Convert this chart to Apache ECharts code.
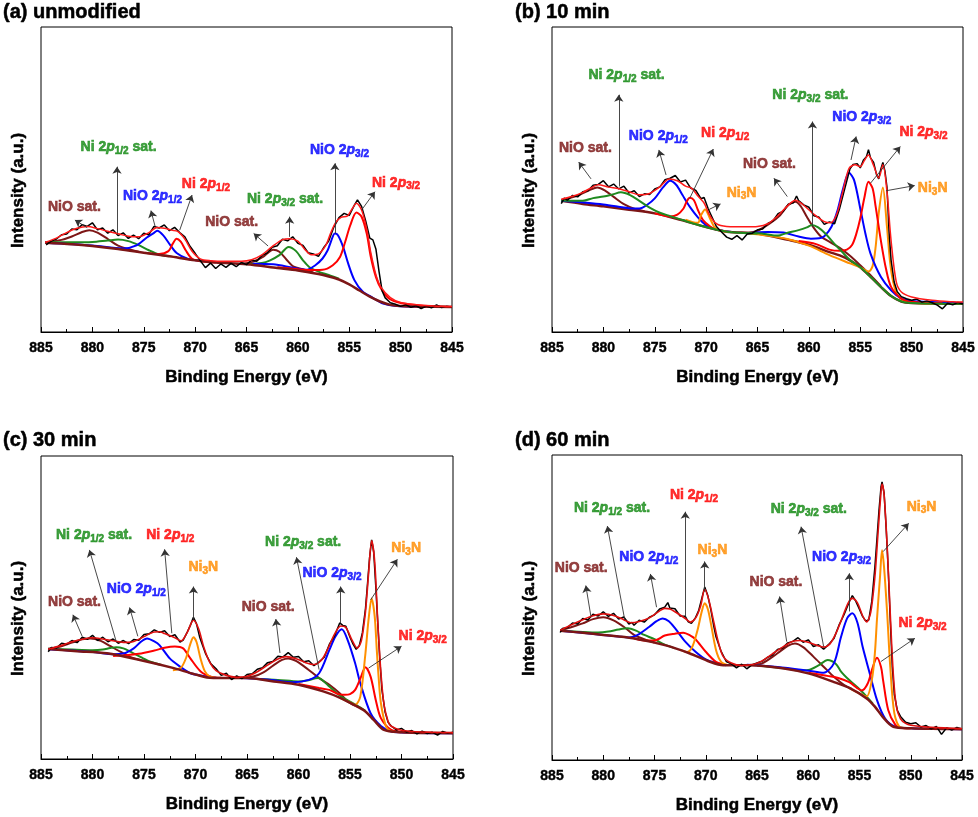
<!DOCTYPE html>
<html>
<head>
<meta charset="utf-8">
<title>Ni 2p XPS</title>
<script src="https://cdn.jsdelivr.net/npm/echarts@6/dist/echarts.min.js"></script>
<style>
  html, body { margin: 0; background: #fff; }
  #chart { width: 978px; height: 817px; }
</style>
</head>
<body>
<div id="chart"></div>
<script>
// ---------- (a) unmodified ----------
var rawA = [[884.5,28.6],[884,29.8],[883.5,30.5],[883,31.9],[882.5,32.1],[882,33.8],[881.5,33.5],[881,35.2],[880.5,34.6],[880,35.8],[879.5,33.5],[879,34.1],[878.5,32.4],[878,33.5],[877.5,31.6],[877,32.5],[876.5,30.7],[876,31.8],[875.5,30.6],[875,32.4],[874.5,31.9],[874,34.6],[873.5,34.1],[873,35.1],[872.5,33.2],[872,34.3],[871.5,32.6],[871,31.2],[870.5,28.1],[870,25.8],[869.5,23.4],[869,21.1],[868.5,22.6],[868,20.8],[867.5,22.3],[867,21.2],[866.5,22.5],[866,21.4],[865.5,22.8],[865,22.1],[864.5,23.6],[864,23.2],[863.5,25.1],[863,25.9],[862.5,27.8],[862,28.3],[861.5,30.4],[861,29.9],[860.5,31.2],[860,29.1],[859.5,28.4],[859,26],[858.5,25.6],[858,24.8],[857.5,27.6],[857,29.8],[856.5,34.4],[856,37.5],[855.5,38.9],[855,38.2],[854.5,41.6],[854.2,43.3],[853.8,41.2],[853.4,36.4],[853,30.8],[852.7,30.2],[852.4,27.1],[852.1,19.8],[851.8,13.5],[851.5,11.2],[851,9.6],[850.5,9.1],[850,8.4],[849.5,8.9],[849,8.1],[848.5,8.6],[848,7.7],[847.5,8.5],[847,7.9],[846.5,8.9],[846,8],[845.5,8.4],[845,8.2]];
var fitA = [[884.6,29.4],[883.5,30.8],[882.5,32.6],[881.5,34],[880.5,34.6],[879.5,33.9],[878.5,33],[877.5,32.2],[876.5,31.4],[875.5,31.2],[874.5,32.6],[873.7,34.3],[873,34],[872.3,33.4],[871.7,33],[871,30.5],[870.3,26.5],[869.5,24],[868.5,23.4],[867,23.2],[865.5,23.2],[864.5,23.7],[863.5,25.3],[862.5,28],[861.5,30.3],[860.8,30.6],[860,29.8],[859.3,27],[858.7,25.3],[858,25.6],[857.3,28.3],[856.8,32.5],[856.3,36],[855.8,37.6],[855.2,38],[854.7,40.5],[854.3,42.2],[853.8,40],[853.3,33.8],[852.9,26],[852.4,18.7],[851.9,14.6],[851,11.3],[850,9.7],[848,8.8],[846,8.4],[845,8.3]];
var bgA = [[884.6,29.3],[882,28.8],[880,28.2],[877.5,27.2],[875,26],[872.5,24.8],[870,23.5],[868,22.8],[865,22.2],[862,21],[860,20.2],[858,19],[857,18.2],[856,17.2],[855,15.6],[854,13.6],[853,11.6],[852,10],[851,8.9],[850,8.5],[848,8.3],[845,8.2]];
var nioSatA1 = [[884.6,29.3],[883,30.2],[882,31.3],[881,32.8],[880.3,33.4],[879.5,32.6],[878.5,30.5],[877.5,28.3],[876.5,27.2],[875.5,26.3]];
var niSat12A = [[884.6,29.4],[882,29.4],[880,29.5],[878.5,30],[877.5,30.3],[876.5,29.8],[875.5,28.5],[874.5,26.8],[873.5,25.4],[872.5,24.8]];
var nio12A = [[884.6,29.3],[880,28.4],[877,27.4],[875.7,28.4],[874.7,31],[874,32.5],[873.7,33.2],[873.1,31.7],[872.4,28.4],[871.8,25.9],[870.8,24.1],[869.8,23.5],[868,22.9]];
var ni12A = [[875,26],[873.5,25.6],[872.6,26.5],[872.2,28.8],[871.8,30.6],[871.4,29.6],[870.9,26.7],[870.3,24],[869.5,23.2],[868,22.8]];
var nioSatA2 = [[866,22.3],[864.4,23],[863.4,24.6],[862.4,27],[861.8,26.3],[861.1,23.7],[860.4,21.4],[859.5,20.6],[858.5,19.5]];
var niSat32A = [[865,22.2],[863.5,22.6],[862.7,23.5],[861.8,25.2],[860.9,27.9],[860.2,26.6],[859.5,23.5],[858.9,21.3],[858,19.8],[857,18.7],[856,17.5]];
var nio32A = [[864.4,22.4],[862.4,22.2],[860.5,21.1],[859.2,20.4],[858.3,21.9],[857.6,24.1],[857.1,26.8],[856.8,29.5],[856.4,32.3],[856.1,31.7],[855.6,27.9],[855.1,22.4],[854.5,17],[853.7,13.3],[852.7,11.2],[851.7,9.3],[850.4,8.5],[848,8.3]];
var ni32A = [[862,21.2],[860,20.6],[859.2,20.3],[857.6,20.4],[856.6,21.9],[855.9,24.6],[855.4,29.5],[854.9,35],[854.3,39.2],[853.8,37.8],[853.3,32.3],[852.9,24.6],[852.4,18],[851.9,14.2],[851.1,10.9],[850,9.5],[848,8.7],[846,8.4],[845,8.3]];

// ---------- (b) 10 min ----------
var rawB = [[884.1,42.1],[883.8,43.9],[883.5,43.2],[883,44.8],[882.5,44.3],[882,46],[881.5,46.3],[881,48.1],[880.5,48.4],[880,49.6],[879.5,47.6],[879,48.5],[878.5,46.9],[878,47.8],[877.5,45.6],[877,46.3],[876.5,44.4],[876,45.3],[875.5,45.1],[875,46.9],[874.5,47.6],[874,49.9],[873.5,50.4],[873,51.3],[872.5,49.2],[872,49.8],[871.5,47.2],[871,46.4],[870.5,43.7],[870.2,44.1],[869.8,40.4],[869.5,38.2],[869,34.6],[868.5,32.8],[868,31.1],[867.5,30.4],[867,31.6],[866.5,30.2],[866,32.1],[865.5,32.4],[865,33.5],[864.5,33.8],[864,35.6],[863.5,36.4],[863,38.8],[862.5,39.6],[862,41.9],[861.5,42.4],[861.2,44.6],[861,43.1],[860.5,41.7],[860,40.9],[859.5,38.1],[859,37.6],[858.5,35.3],[858,36.1],[857.5,35.5],[857,40.6],[856.5,47.1],[856,53.5],[855.7,54.9],[855.3,55.2],[855,53.8],[854.7,56.3],[854.4,57.5],[854.2,59.8],[854,57.1],[853.7,55.6],[853.4,51.4],[853.2,50.2],[853,53.4],[852.8,55.6],[852.6,52.8],[852.4,47.5],[852.2,33.1],[852,23.6],[851.7,16.4],[851.4,13.2],[851,11.6],[850.5,10.9],[850,10.4],[849.5,10.8],[849,9.8],[848.5,10.2],[848,9.6],[847.5,8.8],[847,7.6],[846.5,9.4],[846,8.9],[845.5,9.7],[845,9.2]];
var fitB = [[884.1,43.5],[883,44.5],[882,45.8],[881,47.6],[880.5,48.3],[879.5,47.5],[878.5,47],[877.5,46],[876.5,45],[875.5,45.4],[874.5,47.6],[873.6,50.2],[872.8,49.6],[872,47.8],[871.4,47.1],[870.8,44.6],[870.2,42.3],[869.7,38.6],[869,35.5],[868,34.6],[866,34.5],[865,34.6],[864,35.5],[863,38.2],[862,41.6],[861.3,43.2],[860.6,41.8],[859.5,38.6],[858.5,36.2],[857.9,35.8],[857.3,38.5],[856.7,46],[856.1,53.6],[855.5,54.8],[855,54.2],[854.6,56.2],[854.2,58],[853.7,54.6],[853.2,50.5],[852.8,54.8],[852.4,46],[852,30],[851.5,16.5],[851,13.1],[850,11.5],[848,10.4],[846,9.9],[845,9.8]];
var bgB = [[884.1,43],[882,42],[880,41.2],[877.5,40.1],[875,38.9],[872.5,36.8],[870,34.4],[868,32.9],[865,32.3],[862,30.2],[860,28.6],[858,26.2],[857,25.1],[856,23.5],[855,21.2],[854,18.1],[853,14.8],[852,11.8],[851,10],[850,9.5],[847,9.3],[845,9.3]];
var nioSatB1 = [[884.1,43.2],[883.3,43.9],[882.3,45],[881.3,46.6],[880.6,47.4],[879.8,46.3],[879,44.3],[878,41.9],[877,40.4],[876,39.6]];
var niSat12B = [[884.1,43.1],[882,43],[881,43.9],[880,44.4],[879.1,45.1],[878.3,45.8],[877.4,44.9],[876.5,43],[875.5,40.8],[874.5,39.1],[873.5,38],[872.3,36.7],[870,34.4],[868,32.9],[865,32.3]];
var nio12B = [[884.1,43],[880,41.8],[877.5,40.6],[876.5,40.5],[875.7,41.8],[875,43.8],[874.2,47.4],[873.5,49.6],[872.9,48.2],[872.3,44.9],[871.6,41.1],[870.8,37.6],[870,35],[869,33.6],[867.5,32.8]];
var ni12B = [[875,38.9],[873.5,37.9],[872.8,38.5],[872.2,40.5],[871.9,42.7],[871.6,44],[871.2,43.3],[870.8,40],[870.3,36.7],[869.6,34.6],[869,33.6],[868,32.9]];
var ni3n12B = [[872,36.8],[871.3,36],[870.8,35.8],[870.5,38.3],[870.1,40.2],[869.7,37.8],[869.2,34.5],[868.6,33.2],[867.5,32.8]];
var nioSatB2 = [[866,32.4],[865,33.2],[863.8,35.6],[862.8,38.3],[862,41.6],[861.3,42.7],[860.8,41.3],[860.2,37.8],[859.6,34.5],[858.8,31.2],[857.9,29.4],[857,27.6],[856,25],[855,21.9],[854,18.6],[853,15]];
var niSat32B = [[866,32.4],[865,32.4],[863,31.6],[862.2,32.4],[861,33.4],[860.2,34.3],[859.7,35.1],[859.1,34.3],[858.4,32.3],[857.6,29.2],[856.8,26.4],[856,23.6],[855,21.2],[854,18.1],[853,14.8],[852,11.8],[851,10],[850,9.5],[847,9.3],[845,9.3]];
var nio32B = [[866,32.4],[864,32.8],[862.5,32.6],[861,31.3],[859.8,30.6],[859,30.7],[858.5,31.4],[857.8,34.5],[857.2,40],[856.7,46.6],[856.1,52.2],[855.6,49.8],[855,40.5],[854.5,32.3],[854,25.7],[853,18.1],[852,13.7],[851,11],[850,10.2],[848,9.8],[845,9.5]];
var ni32B = [[861,29.8],[859.3,28.8],[858,27],[857,26.6],[856.3,27],[855.8,28.5],[855.4,32],[855,37.2],[854.6,44],[854.2,49.3],[853.8,47.1],[853.5,41.1],[853,30.1],[852.5,20.8],[852,14.8],[851,11],[850,9.9],[847,9.4]];
var ni3n32B = [[866,32.4],[864,31.6],[862,30.4],[860,28.3],[858,25.2],[856,22.5],[855,21.2],[854.2,19.8],[853.8,21.6],[853.5,28],[853.2,39],[852.8,47.4],[852.4,34.5],[852.1,23],[851.8,16.5],[851.4,12.2],[850.8,10.3],[849.6,9.5],[847,9.3]];

// ---------- (c) 30 min ----------
var rawC = [[884.3,35.4],[884,36.8],[883.5,36.6],[883,38.2],[882.5,37.9],[882,39.1],[881.5,38.4],[881,40.2],[880.5,39.5],[880,40.8],[879.5,39.1],[879,40.2],[878.5,38.7],[878,39.6],[877.5,38.2],[877,39.1],[876.5,38.1],[876,39.4],[875.5,39.2],[875,41.1],[874.5,41.3],[874,42.6],[873.5,41.8],[873,42.3],[872.5,40.4],[872,41],[871.5,38.6],[871.2,39.2],[870.8,41.9],[870.5,44.1],[870.2,46.8],[869.9,44.6],[869.6,40.3],[869.3,37.4],[869,34.6],[868.5,31.4],[868,29.8],[867.5,27.6],[867,28.3],[866.5,26.2],[866,27.4],[865.5,26.5],[865,27.9],[864.5,28.1],[864,29.6],[863.5,30.1],[863,31.8],[862.5,32.2],[862,33.9],[861.5,33.7],[861,35.1],[860.5,33.6],[860,33.8],[859.5,32.1],[859,32.4],[858.5,30.8],[858,32.1],[857.5,33.6],[857,37.9],[856.5,40.6],[856,44.9],[855.7,44.1],[855.4,43.8],[855,40.2],[854.7,37.9],[854.4,36.2],[854.1,37.4],[853.8,41.6],[853.5,49.5],[853.3,57.8],[853.1,66.4],[852.9,72.3],[852.7,68.4],[852.5,57.1],[852.3,44.6],[852.1,32.5],[851.9,22.8],[851.6,15.6],[851.3,12.1],[851,10.9],[850.5,9.6],[850,10.1],[849.5,8.9],[849,9.4],[848.5,8.3],[848,9.2],[847.5,8.4],[847,8.8],[846.5,7.9],[846,9.1],[845.5,8.5],[845,8.8]];
var fitC = [[884.3,36.2],[883,37.5],[882,38.7],[881,39.5],[880,40],[879,39.6],[878,39],[877,38.5],[876,38.8],[875,40.4],[874,41.9],[873.5,42],[873,41.4],[872,40],[871.4,39],[870.8,41.8],[870.2,45.8],[869.7,43],[869.2,37],[868.6,31.8],[868,29.2],[867,27.6],[866,27],[865,27.3],[864,28.8],[863,31],[862,33],[861.2,33.8],[860.3,33.2],[859.3,31.8],[858.5,31.2],[857.8,32.5],[857.2,36],[856.5,41.2],[855.9,43.9],[855.4,43.4],[854.8,39.2],[854.3,36.6],[853.9,39],[853.5,48.5],[853.2,61],[852.9,72],[852.6,65],[852.3,45],[852,28.5],[851.7,18],[851.3,12.4],[851,10.8],[850,9.5],[848,8.9],[845,8.7]];
var bgC = [[884.3,36.3],[881.5,35.6],[878.6,34.9],[875.4,32.7],[872.1,30],[869.9,27.8],[868.9,26.9],[867.3,26.7],[865,26.7],[862.4,25.6],[860,24.5],[857.6,22.3],[855.9,20.1],[854.3,17.3],[853.5,15.7],[852.7,12.9],[851.7,9.6],[850,8.8],[848,8.6],[845,8.5]];
var nioSatC1 = [[884.3,36.3],[883.1,37.1],[882,38.4],[881,39.5],[880.2,39.8],[879.2,39],[878.3,37.3],[877.3,35.4],[876.3,33.6],[875.4,32.7]];
var niSat12C = [[884.3,36.4],[882,36.1],[880,35.9],[879,36.1],[878.3,36.6],[877.7,36.9],[877,36.5],[876.2,35.2],[875.3,33.6],[874.3,32],[873.3,31]];
var nio12C = [[884.3,36.2],[880,35.3],[878,34.6],[877,34.8],[876,36.5],[875.3,38.7],[874.7,39.8],[874,38.8],[873.5,37.6],[872.5,33.2],[871.5,30.5],[870.5,28.3],[869.5,27.6],[868,26.8]];
var ni12C = [[878,34],[877,34.2],[875.5,34.7],[874,35.8],[873,36.7],[872,37.1],[871.2,36.5],[870.5,33.2],[869.5,28.9],[868.5,27.2],[867.5,26.8]];
var ni3n12C = [[872.2,29.3],[871.4,30.2],[870.9,33.5],[870.5,38],[870.2,40.2],[869.9,38.6],[869.5,33],[869.1,29],[868.6,27.2],[867.5,26.7]];
var nioSatC2 = [[867,26.7],[865.5,26.8],[864.4,27.2],[863.4,28.6],[862.4,31],[861.6,32.7],[861,33.2],[860.2,32.3],[859.4,30.4],[859,29.4],[858,26.7],[857,24.5],[856,21.7],[855.2,18.9],[854.5,17.6]];
var niSat32C = [[864,26.4],[862,26.1],[860,25.6],[859.2,25.9],[858.1,26.7],[857.1,24.2],[856.1,21.2],[855,18.9],[854.3,17.6],[853.5,15.9]];
var nio32C = [[866,26.8],[863,26.2],[860.5,25.3],[859,26.1],[858,28.3],[857,36],[856.4,40.5],[855.8,42.8],[855.2,39],[854.5,31.6],[854,25],[853,15.1],[852,10.9],[851,9.1],[849,8.7],[845,8.5]];
var ni32C = [[860,24.8],[858,23.4],[857,22.8],[856.2,21.5],[855.5,21.2],[855,21.4],[854.5,22.8],[854,26.5],[853.5,30.3],[853,27.2],[852.5,19.5],[852,13.5],[851,9.6],[850,9],[847,8.7]];
var ni3n32C = [[856,20.2],[855,18.7],[854.5,17.9],[854,20.6],[853.5,34.9],[853.2,46],[852.9,53],[852.6,47],[852.4,36],[852.2,26],[852,18.4],[851.5,10.7],[851,9.2],[850,8.8]];

// ---------- (d) 60 min ----------
var rawD = [[884.2,41.8],[884,43.1],[883.5,43.4],[883,44.9],[882.5,44.6],[882,46.4],[881.5,45.9],[881,47.8],[880.5,47.2],[880,48.6],[879.5,47.1],[879,48.1],[878.5,46.2],[878,46.9],[877.5,44.6],[877.2,45.1],[877,44.2],[876.5,45.8],[876,45.2],[875.5,46.8],[875,47.6],[874.5,49.5],[874,50.1],[873.7,51.6],[873.5,49.8],[873,49.6],[872.5,47.2],[872,47.1],[871.7,45.3],[871.4,44.8],[871,46.7],[870.7,48.9],[870.4,52.8],[870.1,56.7],[869.8,53.9],[869.5,49.2],[869.2,43.6],[869,40.4],[868.5,35.6],[868,32.3],[867.5,31.5],[867,30.2],[866.5,31.4],[866,29.9],[865.5,31.2],[865,31.8],[864.5,32.4],[864,33.6],[863.5,34.4],[863,36.2],[862.5,36.7],[862,38.4],[861.5,38.9],[861,40.1],[860.5,38.6],[860,39.4],[859.5,37.2],[859,37.8],[858.5,36.3],[858,37.9],[857.5,39.8],[857,44.2],[856.5,47.7],[856,51.8],[855.7,53.9],[855.4,52.3],[855,49.4],[854.7,47.1],[854.4,45.6],[854.1,45.9],[853.8,52],[853.5,63.2],[853.3,72.4],[853.1,81.8],[852.9,89.6],[852.8,91.2],[852.6,87.5],[852.4,76.1],[852.2,62.5],[852,45.8],[851.8,30.6],[851.6,21.4],[851.3,16.2],[851,14.3],[850.5,12.4],[850,11.9],[849.5,12.2],[849,10.8],[848.5,11.3],[848,10.2],[847.5,11],[847,8.4],[846.5,10.6],[846,9.8],[845.5,10.7],[845,10.2]];
var fitD = [[884.2,42.5],[883,44.5],[882,46],[881,47.3],[880,47.9],[879,47.4],[878,46],[877.3,45],[876.5,45.4],[875.5,46.6],[874.5,48.9],[874,49.7],[873.5,49.5],[873,48.6],[872,46.4],[871.5,45.2],[871,46.5],[870.5,50.5],[870.1,56],[869.7,52.5],[869.2,45],[868.8,39],[868.3,34],[867.5,31.8],[866.5,31],[865.5,31.2],[864.5,32.5],[863.5,34.8],[862.5,37],[861.5,38.9],[860.8,39.2],[860,38.6],[859,37.4],[858.5,37],[857.9,38],[857.3,41.5],[856.7,46.5],[856.1,51.5],[855.7,53],[855.2,51.5],[854.7,47.3],[854.3,45.3],[853.9,48.5],[853.5,60],[853.2,74],[852.9,88],[852.8,90.5],[852.6,87],[852.3,70],[852,48],[851.7,28],[851.4,17.5],[851,13.5],[850.5,12],[850,11.4],[848,10.7],[845,10.3]];
var bgD = [[884.2,42.4],[882,41.7],[880,41],[877.1,39.9],[873.8,37.5],[871.6,35],[869.6,32.2],[868.3,31.1],[865.7,31.1],[862.5,30.1],[860,28.4],[857.6,25.7],[855.9,23.5],[854.3,20.2],[853.5,17.5],[852.7,14],[851.7,10.9],[850,10.4],[847,10.2],[845,10.1]];
var nioSatD1 = [[884.2,42.5],[883,43.7],[882,44.8],[881,46.2],[880,46.8],[879,45.8],[878,43.7],[877,41],[876,39.6],[875,38.5]];
var niSat12D = [[884.2,42.5],[882,42],[880.5,41.8],[879.5,42.1],[878.5,42.8],[877.6,43.2],[876.8,42.4],[876,41],[875,39.6],[874,37.8],[873,36.6]];
var nio12D = [[884.2,42.4],[880,41],[878.5,40.5],[877.5,40.2],[876.5,41.3],[875.5,43.7],[874.8,45.5],[874.2,46.4],[873.6,45.5],[873,43.2],[872,38.8],[871,35.5],[870,33],[869,31.8],[868,31.1]];
var ni12D = [[877,39.9],[876,39.2],[875,39.2],[874,40.8],[873,41.4],[872.2,41.7],[871.5,40.8],[871,39.6],[870,35.5],[869,32.2],[868,31.1]];
var ni3n12D = [[872.5,36.2],[871.8,35.4],[871.3,37.2],[870.8,42.6],[870.4,48.5],[870.1,51.4],[869.8,49.5],[869.5,44.8],[869,36.1],[868.5,32.2],[867.8,31.1]];
var nioSatD2 = [[867,31.1],[865.5,31.2],[864.5,31.7],[863,35],[862,37.4],[861.3,38.2],[860.5,37],[859.5,33.9],[858.5,30.6],[857.5,27.3],[856.5,24.6],[855.8,23.4]];
var niSat32D = [[865,31],[862,29.9],[861,29.4],[860,29.5],[859,31],[858.1,32.8],[857.3,31.5],[856.8,29],[856,26.2],[855,23.2],[854.3,20.8],[853.7,18.5]];
var nio32D = [[866,31.2],[863,30.5],[860,29.3],[858.5,28.6],[857.5,31.7],[856.8,40.4],[856.2,46.5],[855.7,48.1],[855.2,45],[854.7,37.2],[854,28.4],[853.3,19.7],[852.5,13.6],[851.5,10.9],[850,10.4],[845,10.1]];
var ni32D = [[860,28.6],[858,27.5],[857,26.8],[856,25.5],[855.2,23.5],[854.8,22.8],[854.2,25.1],[853.7,30.5],[853.3,33.5],[852.9,30.5],[852.7,26.2],[852.2,16.4],[851.5,11.5],[851,10.6],[850,10.4]];
var ni3n32D = [[856,23.6],[855,21.8],[854.3,20.8],[853.8,26.2],[853.5,35],[853.3,45.9],[853,60],[852.8,68.8],[852.6,63],[852.3,48.1],[852,30.6],[851.6,15.3],[851,10.7],[850,10.4]];

// peak labels: [text, colour key, eV, intensity]
var TXT = {
    nioSat: '{b|NiO sat.}',
    ni12sat: '{b|Ni 2}{i|p}{s|1/2}{b| sat.}',
    ni32sat: '{b|Ni 2}{i|p}{s|3/2}{b| sat.}',
    nio12: '{b|NiO 2}{i|p}{s|1/2}',
    nio32: '{b|NiO 2}{i|p}{s|3/2}',
    ni12: '{b|Ni 2}{i|p}{s|1/2}',
    ni32: '{b|Ni 2}{i|p}{s|3/2}',
    ni3n: '{b|Ni}{s|3}{b|N}'
};
var labelsA = [['nioSat','sat',881.7,40.9],['ni12sat','grn',877.4,60.3],['nio12','blu',874.1,44.4],['ni12','red',868.9,48.4],['nioSat','sat',866.4,35.8],['ni32sat','grn',861.2,43.3],['nio32','blu',855.9,59.5],['ni32','red',850.4,48.8]];
var arrowsA = [[880.5,34.2,881.7,36.7],[877.6,32.3,877.6,54.2],[873.9,34.7,874.3,39.8],[871.5,33.4,870.3,44.9],[862.9,28.2,864.3,32.3],[860.8,31.2,860.8,37.8],[856.4,32.3,856.4,55.3],[853.8,40,852.5,46]];
var labelsB = [['ni12sat','grn',877.7,84.1],['nioSat','sat',881.7,60],['nio12','blu',874.6,64.1],['ni12','red',868.1,64.9],['ni3n','org',866.5,45.5],['nioSat','sat',863.8,55],['ni32sat','grn',859.8,77.6],['nio32','blu',854.8,70.4],['ni32','red',848.8,65.2],['ni3n','org',847.9,46.9]];
var arrowsB = [[878.5,47.7,878.5,77.8],[881.2,50.2,882.4,55.7],[873.9,51.5,874.6,59.7],[871.6,43.8,869.3,60],[869.7,40.2,868.6,42],[862.1,44.4,863.4,50.4],[859.65,34.5,859.65,69],[855.9,56.4,855.4,64.1],[854,48.8,851.1,60.8],[852.5,46.3,849.7,48]];
var labelsC = [['nioSat','sat',881.7,51.6],['ni12sat','grn',879.8,73.7],['nio12','blu',875.7,56],['ni12','red',872.4,73.6],['ni3n','org',869.2,63.2],['nioSat','sat',862.9,50],['ni32sat','grn',859.5,71.5],['nio32','blu',856.7,61.3],['ni3n','org',849.5,69.3],['ni32','red',847.9,40.5]];
var arrowsC = [[881,40.5,881.9,47.6],[877.7,38.8,880.3,69],[875.6,40.5,876.4,50],[872.3,41.5,873,69.2],[870.2,45.9,870.2,56.9],[861.8,35,862.2,46.2],[858,29.5,860.2,66.6],[855.9,44.8,855.9,56.9],[853,52.5,850.4,65.9],[853.2,30,850,37.2]];
var labelsD = [['nioSat','sat',882.1,62.6],['ni12sat','grn',879.1,82.5],['nio12','blu',875.5,66.4],['ni12','red',871.1,86.7],['ni3n','org',869.3,68.5],['nioSat','sat',863.1,58.3],['ni32sat','grn',859.9,82],['nio32','blu',856.7,66.4],['ni3n','org',848.9,82.9],['ni32','red',848.8,44.6]];
var arrowsD = [[881.2,47,881.7,57.2],[877.9,45.9,879.6,76.7],[874.8,50.1,875.4,61],[872,47,872,81.4],[870.1,55.2,870.1,65.1],[862.1,38.8,862.8,53.6],[858.5,37.2,860.7,76.5],[856,48.7,856,61.2],[852.7,68.3,850.2,77.6],[852.9,32.3,849.6,39.9]];

var FONT = '"Liberation Sans", Arial, sans-serif';
var COL = { sat: '#7d1616', grn: '#1f8a1f', blu: '#0000ff', red: '#ff0000', org: '#ff9000', bg: '#7d1616' };
var LABCOL = { sat: '#7a1414', grn: '#138a13', blu: '#0000ff', red: '#ff0000', org: '#ff8c00' };

var panels = [
    { title: '(a) unmodified', box: [41, 27, 411, 305], tx: 3, ty: 2, raw: rawA, fit: fitA, fitCol: '#ff1a1a', fitW: 1.5, bg: bgA, bgFirst: false,
      comps: [[nioSatA1,'sat'],[niSat12A,'grn'],[nio12A,'blu'],[ni12A,'red'],[nioSatA2,'sat'],[niSat32A,'grn'],[nio32A,'blu'],[ni32A,'red']],
      labels: labelsA, arrows: arrowsA },
    { title: '(b) 10 min', box: [552, 27, 411, 305], tx: 515, ty: 2, raw: rawB, fit: fitB, fitCol: '#ff1a1a', fitW: 1.5, bg: bgB, bgFirst: true,
      comps: [[nioSatB1,'sat'],[nio12B,'blu'],[ni12B,'red'],[ni3n12B,'org'],[nioSatB2,'sat'],[ni3n32B,'org'],[nio32B,'blu'],[ni32B,'red'],[niSat12B,'grn'],[niSat32B,'grn']],
      labels: labelsB, arrows: arrowsB },
    { title: '(c) 30 min', box: [41, 456, 412, 303], tx: 3, ty: 430, raw: rawC, fit: fitC, fitCol: '#e01010', fitW: 1.6, bg: bgC, bgFirst: false,
      comps: [[nioSatC1,'sat'],[niSat12C,'grn'],[nio12C,'blu'],[ni12C,'red'],[ni3n12C,'org'],[nioSatC2,'sat'],[niSat32C,'grn'],[nio32C,'blu'],[ni32C,'red'],[ni3n32C,'org']],
      labels: labelsC, arrows: arrowsC },
    { title: '(d) 60 min', box: [552, 455, 410, 305], tx: 515, ty: 430, raw: rawD, fit: fitD, fitCol: '#e01010', fitW: 1.6, bg: bgD, bgFirst: false,
      comps: [[nioSatD1,'sat'],[niSat12D,'grn'],[nio12D,'blu'],[ni12D,'red'],[ni3n12D,'org'],[nioSatD2,'sat'],[niSat32D,'grn'],[nio32D,'blu'],[ni32D,'red'],[ni3n32D,'org']],
      labels: labelsD, arrows: arrowsD }
];

function richFor(color) {
    // thin stroke in the same colour makes the bold labels as heavy as the original
    var base = { color: color, fontWeight: 'bold', fontFamily: FONT, textBorderColor: color, textBorderWidth: 0.6, textShadowBlur: 0 };
    return {
        b: Object.assign({ fontSize: 14, lineHeight: 18 }, base),
        i: Object.assign({ fontSize: 14, lineHeight: 18, fontStyle: 'italic' }, base),
        s: Object.assign({ fontSize: 10, lineHeight: 10, verticalAlign: 'bottom' }, base)
    };
}

function curve(i, data, color, width, smooth) {
    return {
        type: 'line', xAxisIndex: i, yAxisIndex: i, data: data,
        showSymbol: false, symbol: 'none', smooth: smooth, silent: true,
        lineStyle: { color: color, width: width }
    };
}

var grids = [], xAxes = [], yAxes = [], titles = [], series = [];

panels.forEach(function (p, i) {
    grids.push({ left: p.box[0], top: p.box[1], width: p.box[2], height: p.box[3], show: true, borderColor: '#000', borderWidth: 1 });
    titles.push({ text: p.title, left: p.tx, top: p.ty, padding: 0,
        textStyle: { fontSize: 20, fontWeight: 'bold', fontFamily: FONT, color: '#000', textBorderColor: '#000', textBorderWidth: 0.5 } });
    xAxes.push({
        type: 'value', gridIndex: i, min: 845, max: 885, interval: 5, inverse: true,
        axisLine: { show: true, lineStyle: { color: '#000', width: 1 } },
        axisTick: { show: true, inside: true, length: 5, lineStyle: { color: '#000' } },
        minorTick: { show: true, splitNumber: 2, length: 3, lineStyle: { color: '#000' } },
        axisLabel: { color: '#000', fontSize: 14, fontWeight: 'bold', fontFamily: FONT, margin: 9, textBorderColor: '#000', textBorderWidth: 0.4 },
        splitLine: { show: false },
        name: 'Binding Energy (eV)', nameLocation: 'middle', nameGap: 37,
        nameTextStyle: { color: '#000', fontSize: 17, fontWeight: 'bold', fontFamily: FONT, textBorderColor: '#000', textBorderWidth: 0.5 }
    });
    yAxes.push({
        type: 'value', gridIndex: i, min: 0, max: 100,
        axisLine: { show: false }, axisTick: { show: false }, axisLabel: { show: false }, splitLine: { show: false },
        name: 'Intensity (a.u.)', nameLocation: 'middle', nameGap: 14, nameRotate: 90,
        nameTextStyle: { color: '#000', fontSize: 17, fontWeight: 'bold', fontFamily: FONT, padding: [0, 22, 0, 0], textBorderColor: '#000', textBorderWidth: 0.5 }
    });

    if (p.bgFirst) series.push(curve(i, p.bg, COL.bg, 2.5, 0.3));
    p.comps.forEach(function (c) { series.push(curve(i, c[0], COL[c[1]], 2, 0.3)); });
    if (!p.bgFirst) series.push(curve(i, p.bg, COL.bg, 2.5, 0.3));
    series.push(curve(i, p.raw, '#000', 1.5, false));
    series.push(curve(i, p.fit, p.fitCol, p.fitW, 0.3));

    // arrows from the peaks to their labels
    series.push({
        type: 'line', xAxisIndex: i, yAxisIndex: i, data: [], silent: true,
        markLine: {
            silent: true, animation: false, symbol: ['none', 'arrow'], symbolSize: 7,
            label: { show: false },
            lineStyle: { color: '#333', width: 0.9, type: 'solid' },
            data: p.arrows.map(function (a) { return [{ coord: [a[0], a[1]] }, { coord: [a[2], a[3]] }]; })
        }
    });

    p.labels.forEach(function (l) {
        series.push({
            type: 'scatter', xAxisIndex: i, yAxisIndex: i, silent: true, z: 6,
            symbolSize: 1, itemStyle: { color: 'rgba(0,0,0,0)' },
            data: [[l[2], l[3]]],
            label: {
                show: true, position: [0, 0], align: 'center', verticalAlign: 'middle',
                color: LABCOL[l[1]],
                formatter: TXT[l[0]], rich: richFor(LABCOL[l[1]])
            }
        });
    });
});

var chart = echarts.init(document.getElementById('chart'));
chart.setOption({
    backgroundColor: '#fff',
    animation: false,
    title: titles,
    grid: grids,
    xAxis: xAxes,
    yAxis: yAxes,
    series: series
});
</script>
</body>
</html>
